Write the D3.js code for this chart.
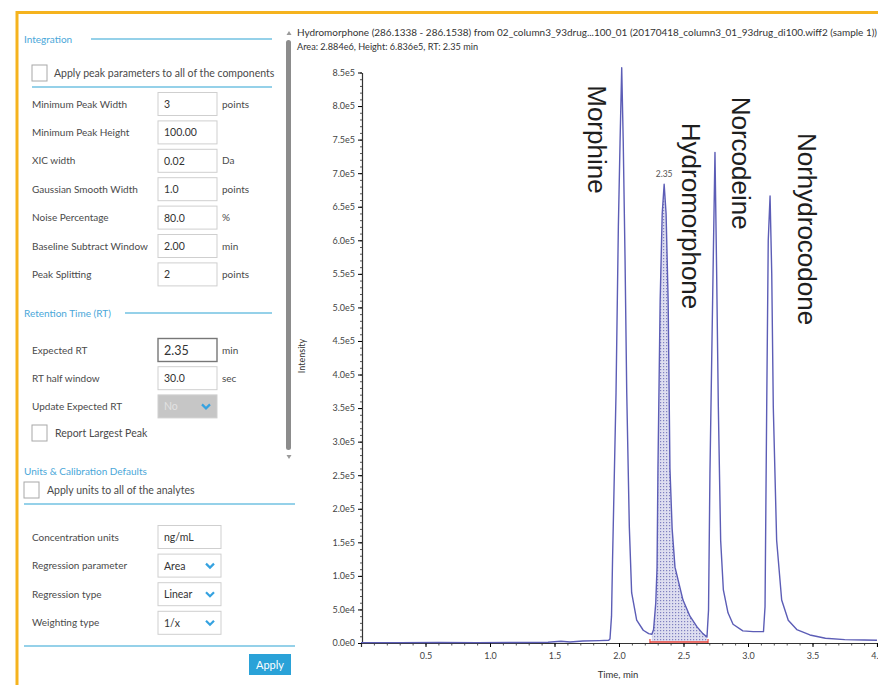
<!DOCTYPE html>
<html>
<head>
<meta charset="utf-8">
<script src="https://cdn.jsdelivr.net/npm/d3@7"></script>
<style>
  body { margin: 0; background: #fff; }
  text { font-family: Lato, 'Noto Sans', sans-serif; }
</style>
</head>
<body>
<div id="chart"></div>
<script>
// XIC trace: [time (min), intensity (cps)]
const tracePoints = [
  [0.00, 500], [0.30, 500], [0.60, 800], [0.90, 600], [1.20, 800], [1.45, 1200],
  [1.55, 2500], [1.62, 1500], [1.72, 3000], [1.85, 3500], [1.92, 4000],
  // Morphine
  [1.930, 6000], [1.942, 40000], [1.950, 124000], [1.977, 373000], [1.995, 620000],
  [2.008, 745000], [2.021, 857000], [2.033, 745000], [2.047, 570000], [2.060, 373000],
  [2.080, 173000], [2.098, 75000], [2.137, 34000], [2.188, 19000], [2.230, 14000],
  [2.255, 13000],
  // Hydromorphone
  [2.268, 20000], [2.285, 60000], [2.295, 113000], [2.302, 260000], [2.319, 510000],
  [2.335, 640000], [2.350, 683600], [2.365, 640000], [2.381, 510000], [2.395, 260000],
  [2.412, 170000], [2.434, 113000], [2.496, 64000], [2.550, 40000], [2.605, 24000],
  [2.650, 14000], [2.682, 9000],
  // Norcodeine
  [2.694, 49000], [2.705, 253000], [2.729, 551000], [2.744, 731000], [2.757, 551000],
  [2.770, 352000], [2.788, 153000], [2.809, 79000], [2.845, 45000], [2.884, 28000],
  [2.960, 18000], [3.040, 17000], [3.120, 17000],
  // Norhydrocodone
  [3.132, 54000], [3.145, 352000], [3.157, 600000], [3.171, 666000], [3.184, 551000],
  [3.196, 352000], [3.222, 153000], [3.261, 64000], [3.312, 34000], [3.378, 20000],
  [3.480, 12000], [3.600, 7000], [3.750, 5000], [3.900, 4500], [4.000, 4000]
]

// integrated region of the selected peak
const integrationWindow = [2.24, 2.69]
const integrationBaseline = 1500
const peakRT = 2.35
const peakHeight = 683600

// annotations: name, time, intensity where the rotated label starts
const peakNames = ['Morphine', 'Hydromorphone', 'Norcodeine', 'Norhydrocodone']
const labelTimes = [1.76, 2.49, 2.876, 3.39]
const labelTops = [831000, 775000, 814000, 760000]

const xTicks = [0.5, 1.0, 1.5, 2.0, 2.5, 3.0, 3.5, 4.0]
const yTicks = d3.range(0, 850001, 50000)

const titleLine1 = 'Hydromorphone (286.1338 - 286.1538) from 02_column3_93drug...100_01 (20170418_column3_01_93drug_di100.wiff2 (sample 1))'
const titleLine2 = 'Area: 2.884e6, Height: 6.836e5, RT: 2.35 min'

// settings panel contents
const integrationRows = [
  ['Minimum Peak Width', '3', 'points'],
  ['Minimum Peak Height', '100.00', ''],
  ['XIC width', '0.02', 'Da'],
  ['Gaussian Smooth Width', '1.0', 'points'],
  ['Noise Percentage', '80.0', '%'],
  ['Baseline Subtract Window', '2.00', 'min'],
  ['Peak Splitting', '2', 'points']
]
const rtRows = [
  ['Expected RT', '2.35', 'min', 'focus'],
  ['RT half window', '30.0', 'sec', 'box'],
  ['Update Expected RT', 'No', '', 'disabled']
]
const unitRows = [
  ['Concentration units', 'ng/mL', 'box'],
  ['Regression parameter', 'Area', 'drop'],
  ['Regression type', 'Linear', 'drop'],
  ['Weighting type', '1/x', 'drop']
]

;(function () {
  var W = 878
  var H = 685

  var svg = d3.select('#chart')
    .append('svg')
    .attr('width', W)
    .attr('height', H)

  svg.append('rect').attr('width', W).attr('height', H).attr('fill', '#fff')

  // orange frame of the screenshot
  svg.append('path')
    .attr('d', 'M17,' + H + 'V12.5H' + W)
    .attr('fill', 'none')
    .attr('stroke', '#f5b31e')
    .attr('stroke-width', 3)

  // ---------- left settings panel ----------
  var panel = svg.append('g').attr('class', 'panel')
  var labelColor = '#4a4a4a'
  var headColor = '#4aa7d9'
  var ruleColor = '#72c2e2'

  function header (txt, y, lineX0) {
    panel.append('text').attr('x', 24).attr('y', y + 4)
      .attr('font-size', 10).attr('fill', headColor).text(txt)
    if (lineX0) {
      panel.append('line').attr('x1', lineX0).attr('x2', 272)
        .attr('y1', y).attr('y2', y)
        .attr('stroke', ruleColor).attr('stroke-width', 1.6)
    }
  }
  function rule (x1, x2, y) {
    panel.append('line').attr('x1', x1).attr('x2', x2).attr('y1', y).attr('y2', y)
      .attr('stroke', ruleColor).attr('stroke-width', 1.6)
  }
  function checkbox (x, y, txt, tx) {
    panel.append('rect').attr('x', x).attr('y', y).attr('width', 15).attr('height', 16)
      .attr('fill', '#fff').attr('stroke', '#a8a8a8')
    panel.append('text').attr('x', tx).attr('y', y + 12)
      .attr('font-size', 10.5).attr('fill', labelColor).text(txt)
  }
  function chevron (cx, cy) {
    panel.append('path')
      .attr('d', 'M' + (cx - 4) + ',' + (cy - 2) + 'L' + cx + ',' + (cy + 2) + 'L' + (cx + 4) + ',' + (cy - 2))
      .attr('fill', 'none').attr('stroke', '#35a2e0').attr('stroke-width', 2.2)
  }
  function field (row, cy, kind, boxW) {
    panel.append('text').attr('x', 32).attr('y', cy + 3.5)
      .attr('font-size', 10).attr('fill', labelColor).text(row[0])
    panel.append('rect').attr('x', 158).attr('y', cy - 11.5).attr('width', boxW).attr('height', 23)
      .attr('fill', kind === 'disabled' ? '#c6c6c6' : '#fff')
      .attr('stroke', kind === 'focus' ? '#777' : '#cfcfcf')
      .attr('stroke-width', kind === 'focus' ? 1.4 : 1)
    panel.append('text').attr('x', 164).attr('y', cy + (kind === 'focus' ? 4.5 : 4))
      .attr('font-size', kind === 'focus' ? 12.5 : 10.5)
      .attr('fill', kind === 'disabled' ? '#e2e2e2' : '#333')
      .text(row[1])
    if (kind === 'drop' || kind === 'disabled') chevron(158 + boxW - 11, cy)
  }

  header('Integration', 39, 91)
  checkbox(32, 65, 'Apply peak parameters to all of the components', 54)
  rule(32, 272, 87)
  integrationRows.forEach(function (r, i) {
    var cy = 104 + i * 28.4
    field(r, cy, 'box', 59)
    panel.append('text').attr('x', 222).attr('y', cy + 3.5)
      .attr('font-size', 10).attr('fill', labelColor).text(r[2])
  })

  header('Retention Time (RT)', 313, 125)
  rtRows.forEach(function (r, i) {
    var cy = 350 + i * 28.2
    field(r, cy, r[3], 59)
    panel.append('text').attr('x', 222).attr('y', cy + 3.5)
      .attr('font-size', 10).attr('fill', labelColor).text(r[2])
  })
  checkbox(32, 425, 'Report Largest Peak', 55)

  header('Units & Calibration Defaults', 471, null)
  checkbox(24, 482, 'Apply units to all of the analytes', 47)
  rule(24, 295, 504)
  unitRows.forEach(function (r, i) {
    field(r, 537 + i * 28.6, r[2], 63)
  })
  rule(24, 295, 646)

  panel.append('rect').attr('x', 249).attr('y', 654).attr('width', 42).attr('height', 21)
    .attr('fill', '#2aa2d8')
  panel.append('text').attr('x', 270).attr('y', 668.5).attr('text-anchor', 'middle')
    .attr('font-size', 11).attr('fill', '#fff').text('Apply')

  // panel scrollbar
  panel.append('rect').attr('x', 286).attr('y', 40).attr('width', 5).attr('height', 410)
    .attr('rx', 2.5).attr('fill', '#8c8c8c')
  panel.append('path').attr('d', 'M286.5,35L289,31L291.5,35Z').attr('fill', '#9a9a9a')
  panel.append('path').attr('d', 'M286.5,455L289,459L291.5,455Z').attr('fill', '#9a9a9a')

  // ---------- chromatogram ----------
  var x = d3.scaleLinear().domain([0, 4.0]).range([361, 877])
  var y = d3.scaleLinear().domain([0, 850000]).range([643, 72.5])

  svg.append('text').attr('x', 297).attr('y', 36)
    .attr('font-size', 10).attr('fill', '#333')
    .attr('textLength', 580).attr('lengthAdjust', 'spacingAndGlyphs')
    .text(titleLine1)
  svg.append('text').attr('x', 297).attr('y', 50)
    .attr('font-size', 10).attr('fill', '#333')
    .attr('textLength', 181).attr('lengthAdjust', 'spacingAndGlyphs')
    .text(titleLine2)

  // hatched fill of the integrated peak
  var defs = svg.append('defs')
  var pat = defs.append('pattern').attr('id', 'dots')
    .attr('width', 3).attr('height', 3).attr('patternUnits', 'userSpaceOnUse')
  pat.append('rect').attr('width', 3).attr('height', 3).attr('fill', '#dedef0')
  pat.append('rect').attr('width', 1.2).attr('height', 1.2).attr('fill', '#7f80c0')

  var inWindow = tracePoints.filter(function (d) {
    return d[0] >= integrationWindow[0] && d[0] <= integrationWindow[1]
  })
  var area = d3.area()
    .x(function (d) { return x(d[0]) })
    .y0(y(integrationBaseline))
    .y1(function (d) { return y(d[1]) })
  svg.append('path').datum(inWindow)
    .attr('d', area)
    .attr('fill', 'url(#dots)')

  // axes
  var minorX = d3.range(0.1, 4.001, 0.1)
  svg.append('g').attr('transform', 'translate(0,643)')
    .call(d3.axisBottom(x).tickValues(minorX).tickSize(2.5).tickFormat(''))
    .call(function (g) { g.select('.domain').remove() })
    .selectAll('line').attr('stroke', '#555')

  var xAxis = svg.append('g').attr('class', 'axis x-axis')
    .attr('transform', 'translate(0,643)')
    .call(d3.axisBottom(x).tickValues(xTicks).tickSize(4).tickPadding(6)
      .tickFormat(d3.format('.1f')))
  xAxis.select('.domain').attr('stroke', '#333').attr('stroke-width', 1.2)
  xAxis.selectAll('text').attr('font-size', 9).attr('fill', '#444')
    .style('font-family', 'Lato, sans-serif')

  var minorY = d3.range(0, 850001, 10000)
  svg.append('g').attr('transform', 'translate(362,0)')
    .call(d3.axisLeft(y).tickValues(minorY).tickSize(2).tickFormat(''))
    .call(function (g) { g.select('.domain').remove() })
    .selectAll('line').attr('stroke', '#555')

  var yFmt = function (d) { return d3.format('.1e')(d).replace('+', '') }
  var yAxis = svg.append('g').attr('class', 'axis y-axis')
    .attr('transform', 'translate(362,0)')
    .call(d3.axisLeft(y).tickValues(yTicks).tickSize(4).tickPadding(3)
      .tickFormat(yFmt).tickSizeOuter(0))
  yAxis.select('.domain').attr('stroke', '#333').attr('stroke-width', 1.2)
  yAxis.selectAll('text').attr('font-size', 9).attr('fill', '#444')
    .style('font-family', 'Lato, sans-serif')

  svg.append('text').attr('transform', 'translate(305,356) rotate(-90)')
    .attr('text-anchor', 'middle').attr('font-size', 9).attr('fill', '#333')
    .text('Intensity')
  svg.append('text').attr('x', 618).attr('y', 678)
    .attr('text-anchor', 'middle').attr('font-size', 9.5).attr('fill', '#333')
    .text('Time, min')

  // integration baseline in red
  svg.append('line')
    .attr('x1', x(integrationWindow[0])).attr('x2', x(integrationWindow[1]))
    .attr('y1', y(integrationBaseline)).attr('y2', y(integrationBaseline))
    .attr('stroke', '#e8463c').attr('stroke-width', 1.4)
  integrationWindow.forEach(function (t) {
    svg.append('line').attr('x1', x(t)).attr('x2', x(t))
      .attr('y1', y(integrationBaseline) - 3).attr('y2', y(integrationBaseline) + 1)
      .attr('stroke', '#e8463c').attr('stroke-width', 1.2)
  })

  // the XIC trace
  var line = d3.line()
    .x(function (d) { return x(d[0]) })
    .y(function (d) { return y(d[1]) })
  svg.append('path').datum(tracePoints)
    .attr('d', line)
    .attr('fill', 'none')
    .attr('stroke', '#5c5db6')
    .attr('stroke-width', 1.4)
    .attr('stroke-linejoin', 'round')

  svg.append('text').attr('x', x(peakRT)).attr('y', y(peakHeight) - 7)
    .attr('text-anchor', 'middle').attr('font-size', 8.5).attr('fill', '#555')
    .text(d3.format('.2f')(peakRT))

  // rotated compound names
  peakNames.forEach(function (name, i) {
    svg.append('text')
      .attr('transform', 'translate(' + x(labelTimes[i]) + ',' + y(labelTops[i]) + ') rotate(90)')
      .attr('font-size', 26)
      .attr('fill', '#1e1e1e')
      .style('font-family', "'Liberation Sans', Arial, sans-serif")
      .text(name)
  })
})()
</script>
</body>
</html>
